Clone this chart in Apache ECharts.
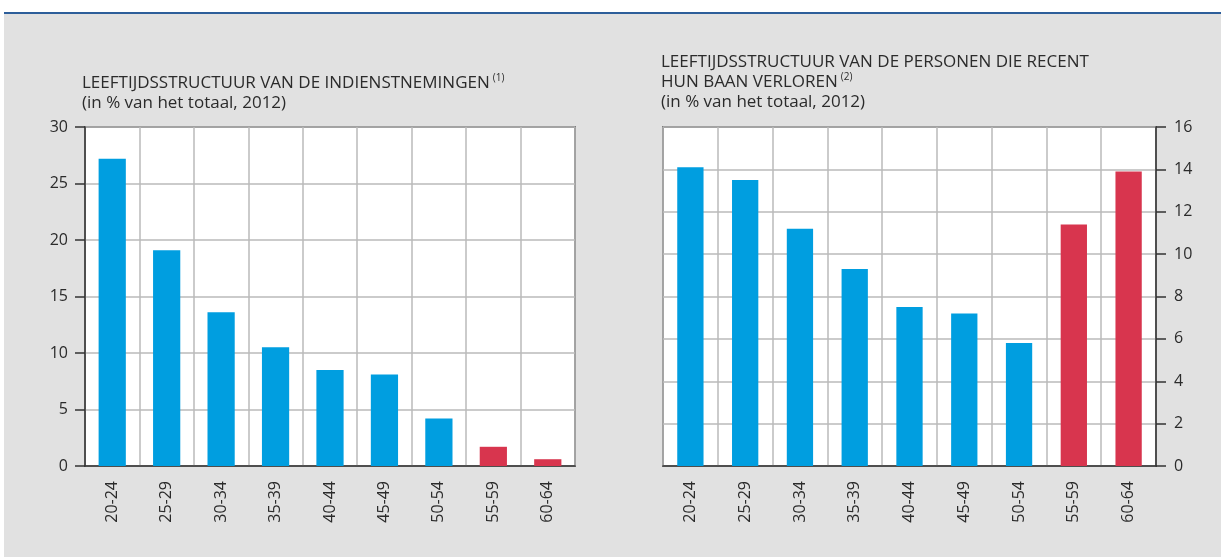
<!DOCTYPE html>
<html>
<head>
<meta charset="utf-8">
<script src="https://cdn.jsdelivr.net/npm/echarts@6/dist/echarts.min.js"></script>
<style>
  html, body { margin: 0; padding: 0; background: #fff; }
  #chart { width: 1221px; height: 557px; }
</style>
</head>
<body>
<div id="chart"></div>
<script>
// age groups on both charts
const ageGroups = ["20-24", "25-29", "30-34", "35-39", "40-44", "45-49", "50-54", "55-59", "60-64"];
const olderGroups = ["55-59", "60-64"];

// share of hires by age (% of total, 2012)
const hiresShare = [27.2, 19.1, 13.6, 10.5, 8.5, 8.1, 4.2, 1.7, 0.6];
// share of people who recently lost their job, by age (% of total, 2012)
const jobLossShare = [14.1, 13.5, 11.2, 9.3, 7.5, 7.2, 5.8, 11.4, 13.9];

const leftTicks = [0, 5, 10, 15, 20, 25, 30];
const rightTicks = [0, 2, 4, 6, 8, 10, 12, 14, 16];

const BLUE = "#009ee0";
const RED = "#d8354e";
const INK = "#2b2b2b";
const FONT = "Open Sans";

const barColor = (p) => (olderGroups.includes(p.name) ? RED : BLUE);

const chart = echarts.init(document.getElementById("chart"));

const xAxisBase = {
  type: "category",
  data: ageGroups,
  axisLine: { lineStyle: { color: "#333", width: 1.5 } },
  axisTick: { inside: true, length: 10, lineStyle: { color: "#333", width: 1.5 } },
  axisLabel: { rotate: 90, margin: 15, color: INK, fontSize: 16, fontFamily: FONT },
  splitLine: { show: true, lineStyle: { color: "#bababa", width: 1.5 } },
};

const yAxisBase = {
  type: "value",
  axisLine: { show: true, lineStyle: { color: "#333", width: 1.5 } },
  axisTick: { show: true, length: 10, lineStyle: { color: "#333", width: 1.5 } },
  axisLabel: { color: INK, fontSize: 16, fontFamily: FONT, margin: 17 },
  splitLine: { show: true, lineStyle: { color: "#bababa", width: 1.5 } },
};

const titleStyle = {
  color: INK,
  fontSize: 17,
  fontWeight: "normal",
  fontFamily: FONT,
  lineHeight: 20,
  rich: {
    sup: { fontSize: 10, fontFamily: FONT, color: INK, verticalAlign: "top", padding: [0, 0, 6, 3] },
  },
};

chart.setOption({
  animation: false,
  graphic: [
    { type: "rect", shape: { x: 4, y: 14, width: 1217, height: 543 }, style: { fill: "#e1e1e1" }, z: -10 },
    { type: "rect", shape: { x: 4, y: 12, width: 1217, height: 2 }, style: { fill: "#2d5e9a" }, z: -9 },
  ],
  title: [
    {
      text: "LEEFTIJDSSTRUCTUUR VAN DE INDIENSTNEMINGEN{sup|(1)}\n(in % van het totaal, 2012)",
      left: 82,
      top: 73,
      padding: 0,
      textStyle: titleStyle,
    },
    {
      text: "LEEFTIJDSSTRUCTUUR VAN DE PERSONEN DIE RECENT\nHUN BAAN VERLOREN{sup|(2)}\n(in % van het totaal, 2012)",
      left: 661,
      top: 52,
      padding: 0,
      textStyle: titleStyle,
    },
  ],
  grid: [
    { left: 85, right: 646, top: 127, bottom: 91, show: true, backgroundColor: "#fff", borderColor: "#333", borderWidth: 1.5 },
    { left: 663, right: 65, top: 127, bottom: 91, show: true, backgroundColor: "#fff", borderColor: "#333", borderWidth: 1.5 },
  ],
  xAxis: [
    { ...xAxisBase, gridIndex: 0 },
    { ...xAxisBase, gridIndex: 1 },
  ],
  yAxis: [
    {
      ...yAxisBase,
      gridIndex: 0,
      position: "left",
      min: leftTicks[0],
      max: leftTicks[leftTicks.length - 1],
      interval: leftTicks[1] - leftTicks[0],
    },
    {
      ...yAxisBase,
      gridIndex: 1,
      position: "right",
      min: rightTicks[0],
      max: rightTicks[rightTicks.length - 1],
      interval: rightTicks[1] - rightTicks[0],
      axisLabel: { ...yAxisBase.axisLabel, margin: 18 },
    },
  ],
  series: [
    {
      name: "Indienstnemingen",
      type: "bar",
      xAxisIndex: 0,
      yAxisIndex: 0,
      barWidth: "50%",
      data: hiresShare,
      itemStyle: { color: barColor },
    },
    {
      name: "Baan verloren",
      type: "bar",
      xAxisIndex: 1,
      yAxisIndex: 1,
      barWidth: "48%",
      data: jobLossShare,
      itemStyle: { color: barColor },
    },
  ],
});
</script>
</body>
</html>
